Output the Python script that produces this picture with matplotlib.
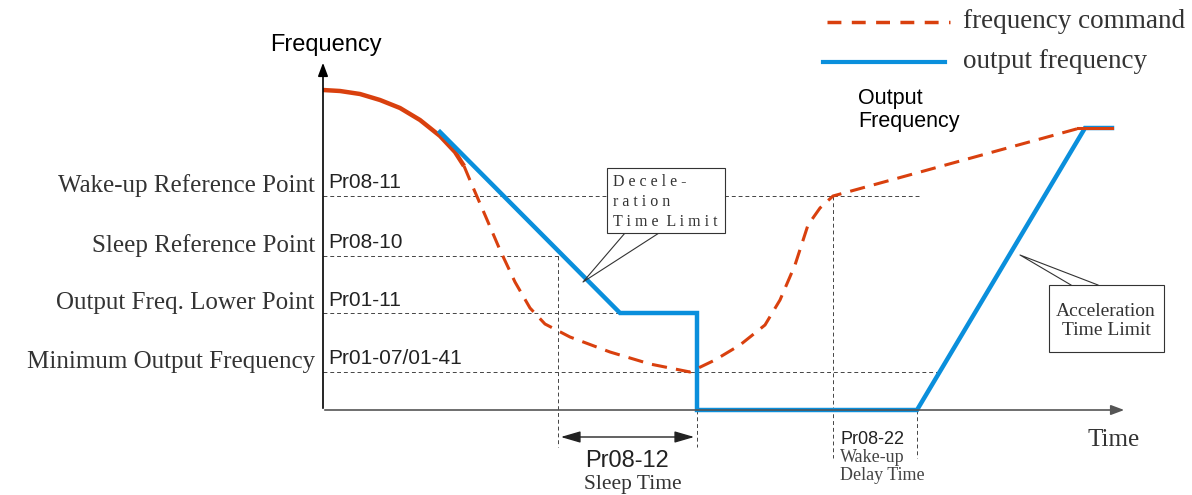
import matplotlib.pyplot as plt
import numpy as np

# diagram drawn in pixel space of the original picture (x right, y down)
levels_y = [196, 256, 313, 372]
level_names = ['Wake-up Reference Point', 'Sleep Reference Point',
               'Output Freq. Lower Point', 'Minimum Output Frequency']
level_codes = ['Pr08-11', 'Pr08-10', 'Pr01-11', 'Pr01-07/01-41']
level_ends = [920, 560, 620, 940]

# frequency command curve
cmd_head_x = [323, 340, 360, 380, 400, 420, 440, 455, 464]
cmd_head_y = [90, 91, 94, 100, 108, 120, 136, 152, 166]
cmd_x = [464, 472, 485, 500, 515, 530, 545, 570, 610, 650, 690,
         715, 740, 765, 780, 795, 808, 820, 833, 1080]
cmd_y = [166, 185, 215, 250, 282, 308, 324, 337, 352, 364, 372,
         360, 345, 325, 300, 265, 225, 208, 196, 128]
cmd_tail_x = [1078, 1112]
cmd_tail_y = [128, 128]

# output frequency
out_x = [440, 620, 697, 697, 917, 1085, 1112]
out_y = [132, 313, 313, 410, 410, 128, 128]

red = '#d9400e'
blue = '#0a8fdc'
serif = 'Liberation Serif'
sans = 'Liberation Sans'

fig = plt.figure(figsize=(11.92, 4.95), dpi=100)
ax = fig.add_axes([0, 0, 1, 1])
ax.set_xlim(0, 1192)
ax.set_ylim(495, 0)
ax.axis('off')

# axes arrows
ax.annotate('', xy=(323, 60), xytext=(323, 411),
            arrowprops=dict(arrowstyle='-|>,head_length=0.8,head_width=0.3', color='black', lw=1.2))
ax.annotate('', xy=(1127, 410), xytext=(322, 410),
            arrowprops=dict(arrowstyle='-|>,head_length=0.8,head_width=0.3', color='#555555', lw=1.2))
ax.text(270, 45, 'Frequency', family=sans, fontsize=17, va='center', ha='left')
ax.text(1088, 440, 'Time', family=serif, fontsize=18, va='center', ha='left', color='#333333')

# level lines and labels
for y, name, code, xe in zip(levels_y, level_names, level_codes, level_ends):
    ax.plot([323, xe], [y, y], ls=(0, (4, 3)), color='#444444', lw=0.7)
    ax.text(315, y - 10, name, family=serif, fontsize=18, ha='right', va='center', color='#333333')
    ax.text(328, y - 13, code, family=sans, fontsize=15, ha='left', va='center', color='#222222')

# vertical guides
for x, y0, y1 in [(558, 256, 447), (697, 410, 447), (833, 196, 458), (917, 410, 458)]:
    ax.plot([x, x], [y0, y1], ls=(0, (4, 3)), color='#444444', lw=0.7)

# curves
ax.plot(cmd_head_x, cmd_head_y, color=red, lw=3.2, solid_capstyle='butt', solid_joinstyle='round')
ax.plot(out_x, out_y, color=blue, lw=3.2, solid_joinstyle='miter')
ax.plot(cmd_x, cmd_y, color=red, lw=2.2, ls=(0, (5, 3)))
ax.plot(cmd_tail_x, cmd_tail_y, color=red, lw=2.2)

# sleep time
ax.annotate('', xy=(558, 437), xytext=(697, 437),
            arrowprops=dict(arrowstyle='<|-|>,head_length=1.2,head_width=0.35', color='#222222', lw=1))
ax.text(627, 461, 'Pr08-12', family=sans, fontsize=17, ha='center', va='center', color='#222222')
ax.text(633, 485, 'Sleep Time', family=serif, fontsize=15.5, ha='center', va='center', color='#333333')

# wake-up delay
ax.text(840, 440, 'Pr08-22', family=sans, fontsize=13, ha='left', va='center', color='#222222')
ax.text(840, 458, 'Wake-up', family=serif, fontsize=13, ha='left', va='center', color='#444444')
ax.text(840, 476, 'Delay Time', family=serif, fontsize=13, ha='left', va='center', color='#444444')

# callout boxes
ax.add_patch(plt.Rectangle((607, 168), 118, 65, fill=True, fc='white', ec='#333333', lw=0.8, zorder=4))
ax.plot([625, 583, 659], [233, 282, 233], color='#333333', lw=0.8, zorder=3)
ax.text(613, 202, 'D e c e l e -\nr a t i o n\nT i m e  L i m i t', family=serif, fontsize=11.5,
        ha='left', va='center', linespacing=1.35, color='#333333', zorder=5)
ax.add_patch(plt.Rectangle((1049, 285), 115, 67, fill=True, fc='white', ec='#333333', lw=0.8, zorder=4))
ax.plot([1071, 1020, 1098], [285, 255, 285], color='#333333', lw=0.8, zorder=3)
ax.text(1106, 321, 'Acceleration\nTime Limit', family=serif, fontsize=14,
        ha='center', va='center', linespacing=1.15, color='#333333', zorder=5)

ax.text(858, 110, 'Output\nFrequency', family=sans, fontsize=15.5, ha='left', va='center', linespacing=1.1)

# legend
ax.plot([827, 950], [22, 22], color=red, lw=2.5, ls=(0, (4, 3)))
ax.text(963, 22, 'frequency command', family=serif, fontsize=19.5, ha='left', va='center', color='#333333')
ax.plot([823, 945], [62, 62], color=blue, lw=3)
ax.text(963, 62, 'output frequency', family=serif, fontsize=19.5, ha='left', va='center', color='#333333')

fig.savefig('out.png', dpi=100)
